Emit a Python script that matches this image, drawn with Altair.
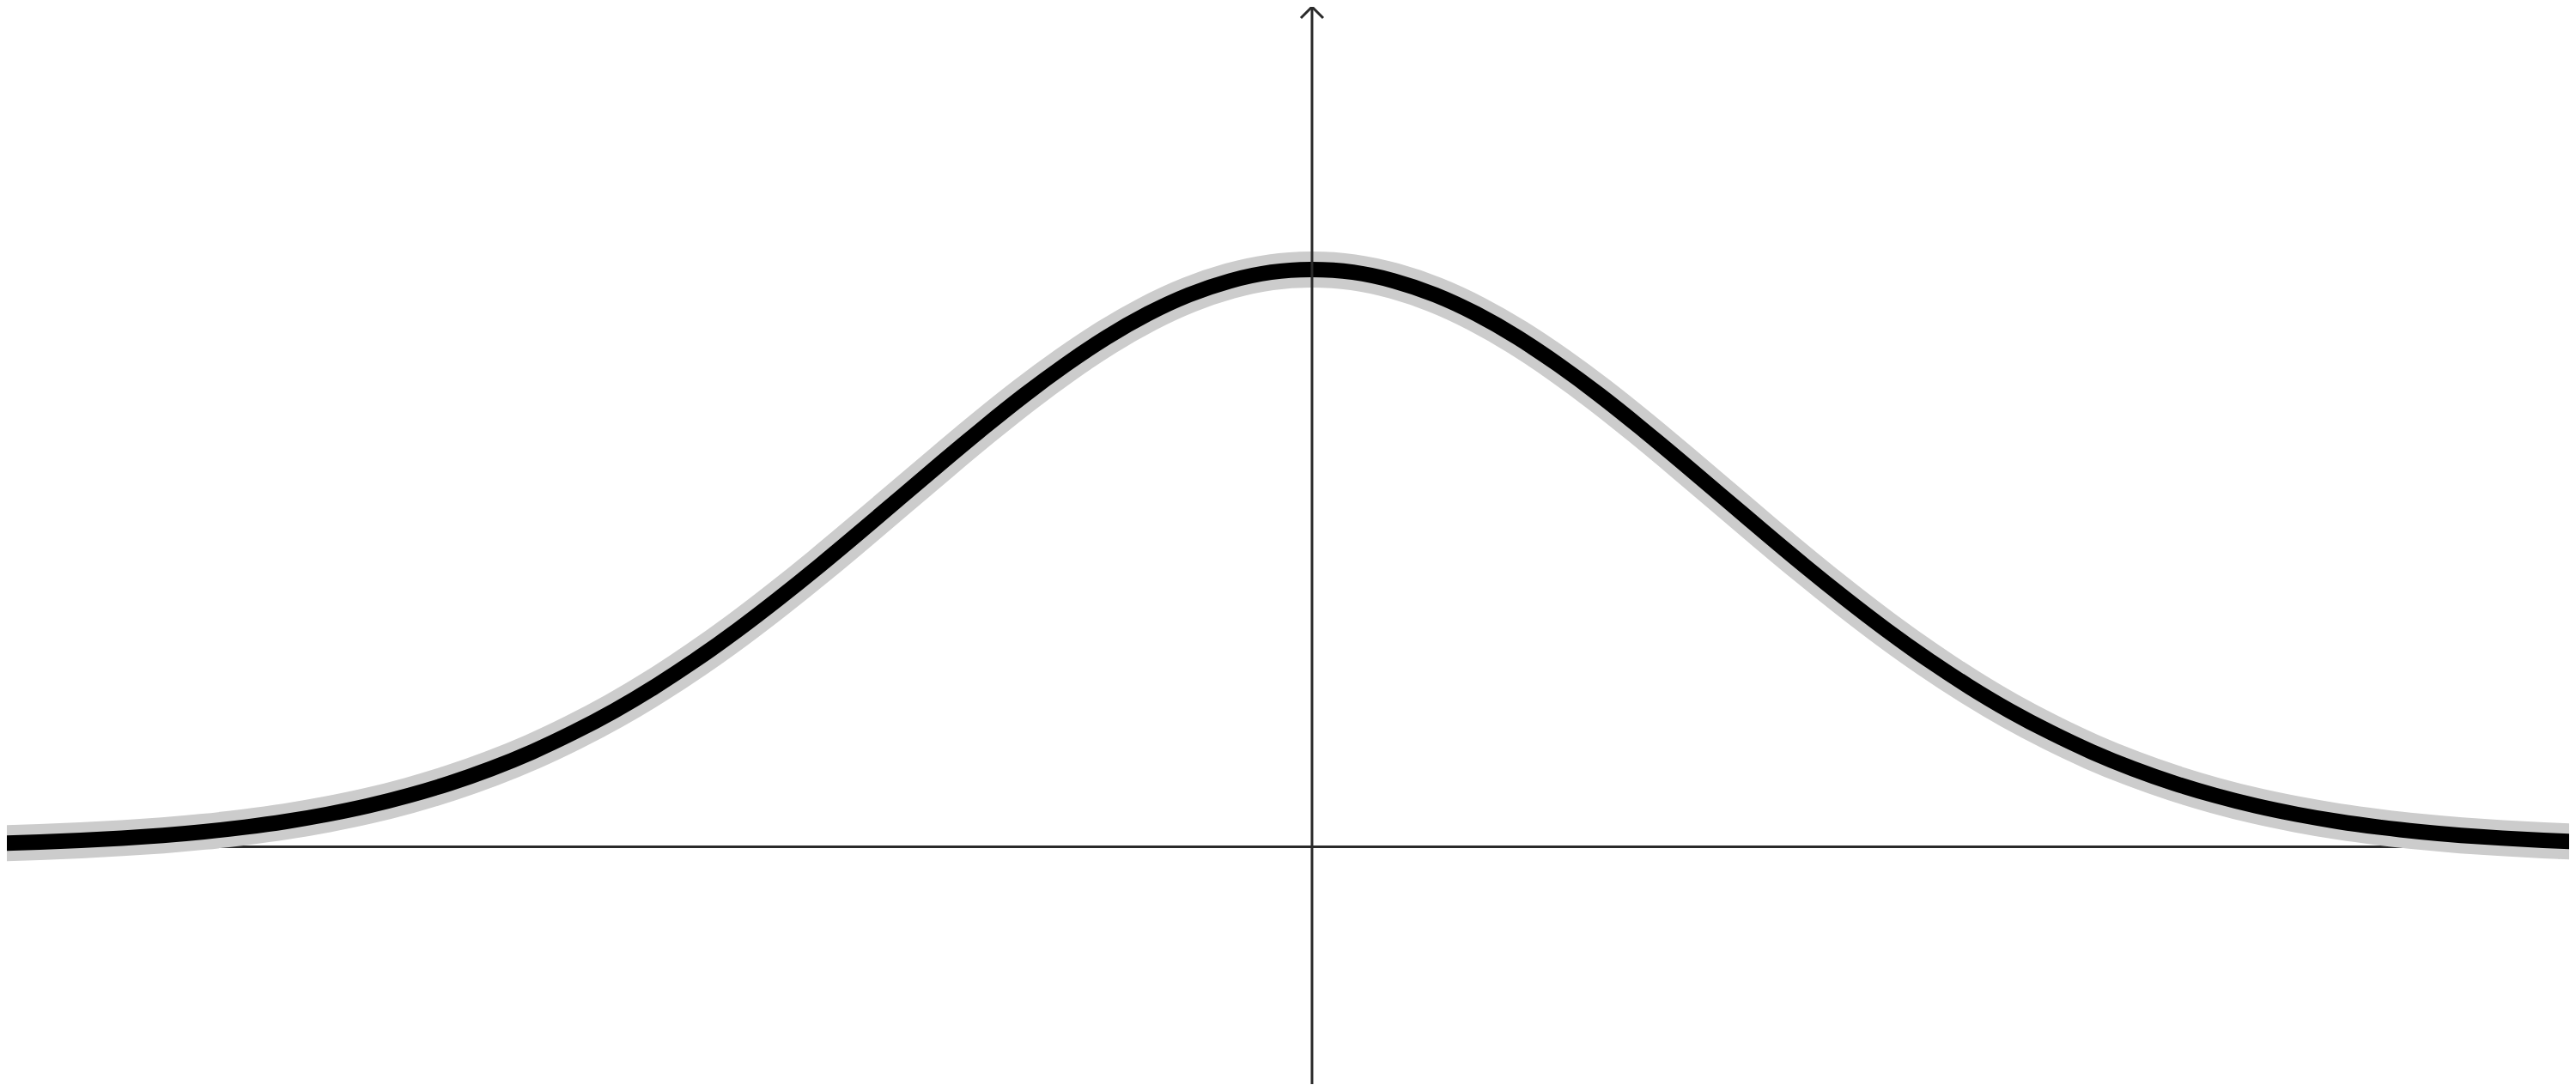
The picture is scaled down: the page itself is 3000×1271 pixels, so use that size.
import altair as alt
import pandas as pd

# Curve values (x in axis units, y = height above the x axis)
curve_x = [-3.2, -3.1, -3.0, -2.9, -2.8, -2.7, -2.6, -2.5, -2.4, -2.3, -2.2, -2.1,
           -2.0, -1.9, -1.8, -1.7, -1.6, -1.5, -1.4, -1.3, -1.2, -1.1, -1.0, -0.9,
           -0.8, -0.7, -0.6, -0.5, -0.4, -0.3, -0.2, -0.1, 0.0,
           0.1, 0.2, 0.3, 0.4, 0.5, 0.6, 0.7, 0.8, 0.9, 1.0, 1.1, 1.2, 1.3, 1.4,
           1.5, 1.6, 1.7, 1.8, 1.9, 2.0, 2.1, 2.2, 2.3, 2.4, 2.5, 2.6, 2.7, 2.8,
           2.9, 3.0, 3.1, 3.2]
curve_y = [0.0024, 0.0033, 0.0044, 0.0060, 0.0079, 0.0104, 0.0136, 0.0175, 0.0224,
           0.0283, 0.0355, 0.0440, 0.0540, 0.0656, 0.0790, 0.0940, 0.1109, 0.1295,
           0.1497, 0.1714, 0.1942, 0.2179, 0.2420, 0.2661, 0.2897, 0.3123, 0.3332,
           0.3521, 0.3683, 0.3814, 0.3910, 0.3970, 0.3989,
           0.3970, 0.3910, 0.3814, 0.3683, 0.3521, 0.3332, 0.3123, 0.2897, 0.2661,
           0.2420, 0.2179, 0.1942, 0.1714, 0.1497, 0.1295, 0.1109, 0.0940, 0.0790,
           0.0656, 0.0540, 0.0440, 0.0355, 0.0283, 0.0224, 0.0175, 0.0136, 0.0104,
           0.0079, 0.0060, 0.0044, 0.0033, 0.0024]

# Visible extent of the axes
x_domain = [-3.18, 3.063]
y_domain = [-0.164, 0.5804]

W, H = 2984, 1255
AXIS_COLOR = "#2a2a2a"

curve = pd.DataFrame({"x": curve_x, "y": curve_y})
xaxis_df = pd.DataFrame({"x": [x_domain[0]], "x2": [x_domain[1]], "y": [0.0]})
yaxis_df = pd.DataFrame({"x": [0.0], "y": [y_domain[0]], "y2": [y_domain[1]]})
xarrow_df = pd.DataFrame({"x": [x_domain[1]], "y": [0.0]})
yarrow_df = pd.DataFrame({"x": [0.0], "y": [y_domain[1]]})

xs = alt.Scale(domain=x_domain, nice=False, zero=False)
ys = alt.Scale(domain=y_domain, nice=False, zero=False)

X = lambda f="x": alt.X(f"{f}:Q", scale=xs, axis=None)
Y = lambda f="y": alt.Y(f"{f}:Q", scale=ys, axis=None)

x_axis = alt.Chart(xaxis_df).mark_rule(color=AXIS_COLOR, strokeWidth=3).encode(
    x=X(), x2="x2:Q", y=Y()
)
x_arrow = alt.Chart(xarrow_df).mark_point(
    shape="M-1,-1L0,0L-1,1", size=676, filled=False, stroke=AXIS_COLOR,
    strokeWidth=3, opacity=1
).encode(x=X(), y=Y())

gray_line = alt.Chart(curve).mark_line(
    color="#cccccc", strokeWidth=42, interpolate="natural", clip=True
).encode(x=X(), y=Y())
black_line = alt.Chart(curve).mark_line(
    color="#000000", strokeWidth=18, interpolate="natural", clip=True
).encode(x=X(), y=Y())

y_axis = alt.Chart(yaxis_df).mark_rule(color=AXIS_COLOR, strokeWidth=3).encode(
    x=X(), y=Y(), y2="y2:Q"
)
y_arrow = alt.Chart(yarrow_df).mark_point(
    shape="M-1,1L0,0L1,1", size=676, filled=False, stroke=AXIS_COLOR,
    strokeWidth=3, opacity=1
).encode(x=X(), y=Y())

chart = alt.layer(x_axis, x_arrow, gray_line, black_line, y_axis, y_arrow).properties(
    width=W, height=H,
    autosize=alt.AutoSizeParams(type="none"),
    padding=0,
    background="white",
).configure_view(stroke=None)

chart.save("out.html", embed_options={"renderer": "svg", "actions": False})
